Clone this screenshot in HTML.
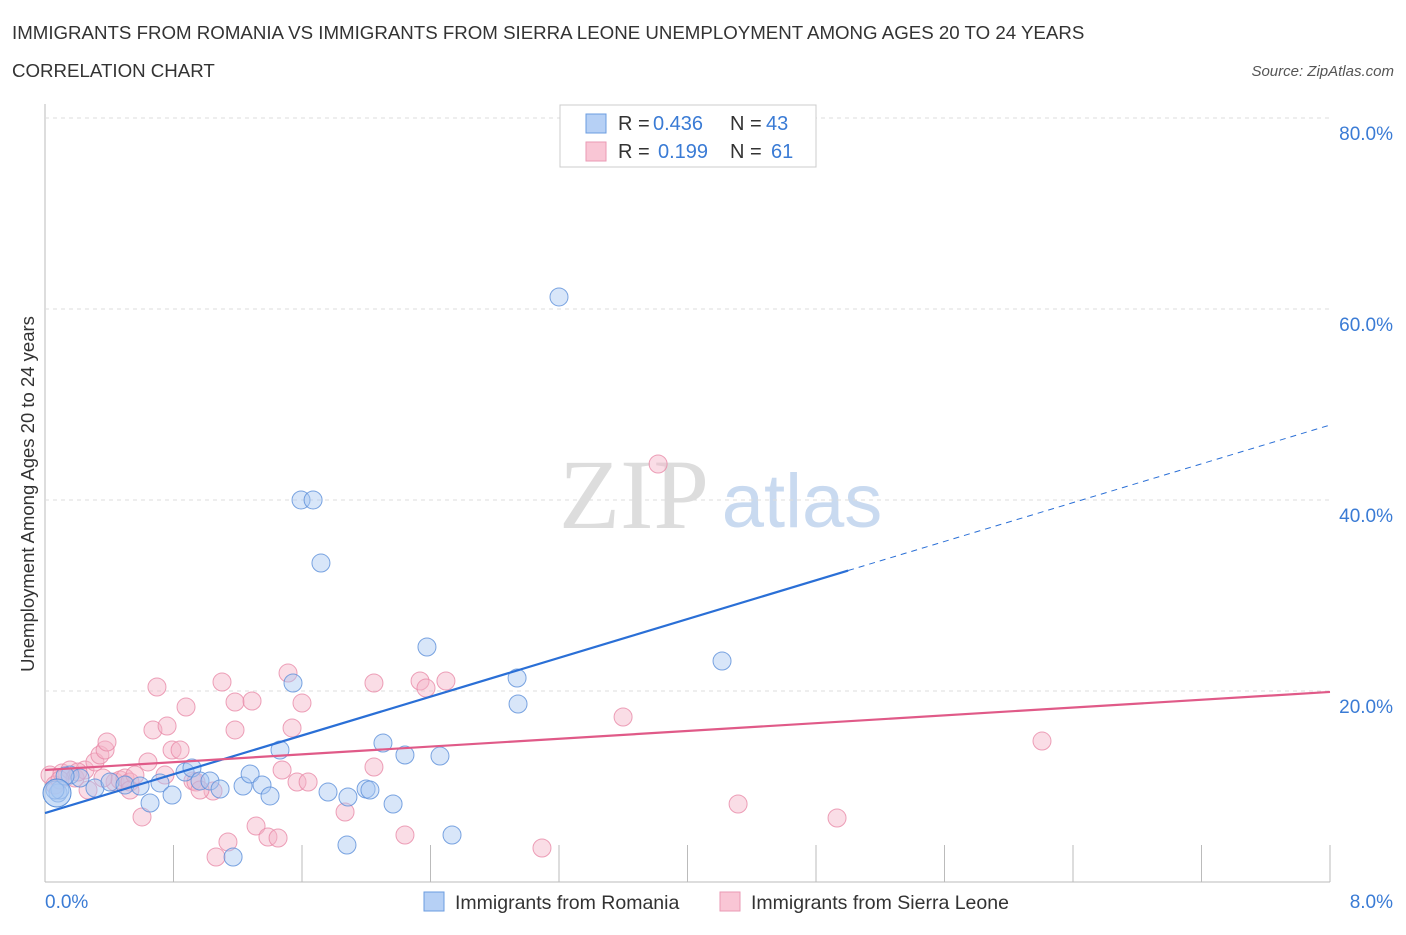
<!DOCTYPE html>
<html><head><meta charset="utf-8"><style>
body{margin:0;background:#fff;font-family:"Liberation Sans",sans-serif;}
</style></head><body>
<svg id="chart" width="1406" height="930" xmlns="http://www.w3.org/2000/svg" font-family="Liberation Sans, sans-serif">
<text x="12" y="39" font-size="18.7" fill="#333">IMMIGRANTS FROM ROMANIA VS IMMIGRANTS FROM SIERRA LEONE UNEMPLOYMENT AMONG AGES 20 TO 24 YEARS</text>
<text x="12" y="77" font-size="18.7" fill="#333">CORRELATION CHART</text>
<text x="1394" y="76" font-size="15" fill="#555" font-style="italic" text-anchor="end">Source: ZipAtlas.com</text>
<text transform="translate(34,494) rotate(-90)" font-size="18.5" fill="#333" text-anchor="middle">Unemployment Among Ages 20 to 24 years</text>
<g><text x="634" y="528" font-size="100" fill="#ddd" font-family="Liberation Serif, serif" text-anchor="middle">ZIP</text><text x="802" y="527" font-size="76" fill="#c9daf0" text-anchor="middle">atlas</text></g>
<g id="grid"></g><g id="marks"></g>
<g>
<rect x="560" y="105" width="256" height="62" fill="#fff" stroke="#ccc"/>
<rect x="586" y="114" width="20" height="19" fill="#b6d0f5" stroke="#6b9ce0"/>
<rect x="586" y="142" width="20" height="19" fill="#f9c6d5" stroke="#ea9ab4"/>
<text x="618" y="130" font-size="20" fill="#333">R =</text><text x="653" y="130" font-size="20" fill="#3a7bd5">0.436</text>
<text x="730" y="130" font-size="20" fill="#333">N =</text><text x="766" y="130" font-size="20" fill="#3a7bd5">43</text>
<text x="618" y="158" font-size="20" fill="#333">R =</text><text x="658" y="158" font-size="20" fill="#3a7bd5">0.199</text>
<text x="730" y="158" font-size="20" fill="#333">N =</text><text x="771" y="158" font-size="20" fill="#3a7bd5">61</text>
</g>
<g>
<rect x="424" y="892" width="20" height="19" fill="#b6d0f5" stroke="#6b9ce0"/>
<text x="455" y="909" font-size="19.5" fill="#333">Immigrants from Romania</text>
<rect x="720" y="892" width="20" height="19" fill="#f9c6d5" stroke="#ea9ab4"/>
<text x="751" y="909" font-size="19.5" fill="#333">Immigrants from Sierra Leone</text>
</g>
<text x="45" y="908" font-size="19" fill="#3a7bd5">0.0%</text>
<text x="1393" y="908" font-size="19" fill="#3a7bd5" text-anchor="end">8.0%</text>
</svg>
<script>
const yTicks=[20,40,60,80];
const yTickLabels=["20.0%","40.0%","60.0%","80.0%"];
const xTicks=[0,0.8,1.6,2.4,3.2,4.0,4.8,5.6,6.4,7.2,8.0];
const romaniaX=[0.081,0.093,0.156,0.218,0.311,0.405,0.498,0.592,0.654,0.716,0.791,0.872,0.915,0.965,1.027,1.090,1.171,1.233,1.277,1.351,1.401,1.463,1.544,1.594,1.669,1.718,1.762,1.880,1.886,1.999,2.023,2.104,2.167,2.241,2.378,2.459,2.534,2.939,2.945,3.200,4.215,0.062,0.125];
const romaniaY=[9.32,9.63,11.20,10.89,9.84,10.47,10.16,10.05,8.27,10.37,9.11,11.52,11.94,10.58,10.58,9.74,2.62,10.05,11.31,10.16,9.01,13.82,20.84,40.0,40.0,33.40,9.42,3.87,8.90,9.74,9.63,14.55,8.17,13.30,24.61,13.19,4.92,21.36,18.64,61.26,23.14,9.63,11.10];
const leoneX=[0.031,0.062,0.106,0.156,0.187,0.249,0.268,0.311,0.342,0.374,0.386,0.436,0.467,0.498,0.529,0.560,0.604,0.641,0.672,0.697,0.747,0.760,0.791,0.841,0.878,0.921,0.940,1.046,1.065,1.102,1.139,1.183,1.183,1.289,1.314,1.388,1.451,1.476,1.513,1.538,1.569,1.600,1.638,1.868,2.048,2.048,2.241,2.335,2.372,2.496,3.094,3.599,3.817,4.315,4.931,6.207,0.093,0.205,0.361,0.529,0.965];
const leoneY=[11.20,10.16,11.41,11.73,10.89,11.73,9.63,12.57,13.30,13.82,14.66,10.47,10.68,10.89,10.47,11.20,6.81,12.57,15.92,20.42,11.20,16.33,13.82,13.82,18.32,10.58,10.47,9.53,2.62,20.94,4.19,15.92,18.85,18.95,5.86,4.71,4.61,11.73,21.88,16.13,10.47,18.74,10.47,7.33,12.04,20.84,4.92,21.05,20.31,21.05,3.56,17.28,43.77,8.17,6.70,14.76,10.68,11.52,10.89,9.63,9.63];
const romaniaTrend=[7.22,47.85];
const romaniaSolidEnd=5.0;
const leoneTrend=[11.73,19.9];

const NS="http://www.w3.org/2000/svg";
const xs=v=>45+v/8*1285;
const ys=v=>882-v/20*191;
function mk(t,a,p){const e=document.createElementNS(NS,t);for(const k in a)e.setAttribute(k,a[k]);p.appendChild(e);return e;}
const grid=document.getElementById('grid'),marks=document.getElementById('marks');
let ax=mk('line',{x1:45,y1:104,x2:45,y2:882,stroke:'#bbb'},grid);

let bx=mk('line',{x1:45,y1:882,x2:1330,y2:882,stroke:'#bbb'},grid);

yTicks.forEach((t,i)=>{
 const g=mk('line',{x1:45,y1:ys(t),x2:1330,y2:ys(t),stroke:'#ddd','stroke-dasharray':'4,4'},grid);
 
 const l=mk('text',{x:1393,y:ys(t)+22,'font-size':19,fill:'#3a7bd5','text-anchor':'end'},grid);
 l.textContent=yTickLabels[i];
 
});
xTicks.forEach(t=>{
 const k=mk('line',{x1:xs(t),y1:845,x2:xs(t),y2:882,stroke:'#bbb'},grid);
 
});
function dots(X,Y,fill,stroke,name){
 X.forEach((x,i)=>{
  const c=mk('circle',{cx:xs(x),cy:ys(Y[i]),r:9,fill:fill,'fill-opacity':0.45,stroke:stroke,'stroke-width':1,'stroke-opacity':0.8},marks);
  
 });
}
dots(leoneX,leoneY,'#f5b3c7','#e88aa8','sierra-leone-point');
dots(romaniaX,romaniaY,'#a9c8f2','#5b8fd9','romania-point');
const big=mk('circle',{cx:xs(romaniaX[0])-1,cy:ys(romaniaY[0]),r:14,fill:'#a9c8f2','fill-opacity':0.6,stroke:'#5b8fd9'},marks);

const ry=x=>romaniaTrend[0]+(romaniaTrend[1]-romaniaTrend[0])*x/8;
let t1=mk('line',{x1:xs(0),y1:ys(ry(0)),x2:xs(romaniaSolidEnd),y2:ys(ry(romaniaSolidEnd)),stroke:'#2a6fd6','stroke-width':2.2},marks);

let t2=mk('line',{x1:xs(romaniaSolidEnd),y1:ys(ry(romaniaSolidEnd)),x2:xs(8),y2:ys(ry(8)),stroke:'#2a6fd6','stroke-width':1,'stroke-dasharray':'6,5'},marks);

let t3=mk('line',{x1:xs(0),y1:ys(leoneTrend[0]),x2:xs(8),y2:ys(leoneTrend[1]),stroke:'#e05a88','stroke-width':2.2},marks);

</script>
</body></html>
